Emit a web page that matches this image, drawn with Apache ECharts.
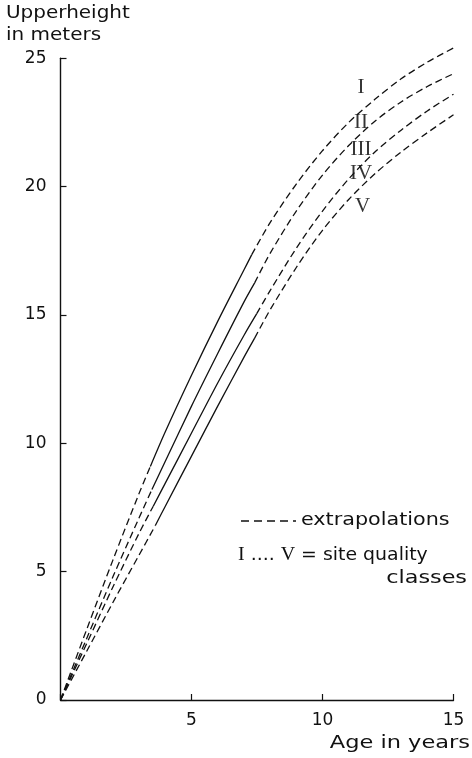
<!DOCTYPE html>
<html>
<head>
<meta charset="utf-8">
<style>
  html, body { margin: 0; padding: 0; background: #fff; }
  #chart { width: 472px; height: 758px; }
</style>
<script src="https://cdn.jsdelivr.net/npm/echarts@6/dist/echarts.min.js"></script>
</head>
<body>
<div id="chart"></div>
<script>
// class boundary curves, [age in years, upperheight in m]
const curve1 = [[0, 0], [1, 2.75], [2, 5.45], [3, 8.05], [3.43, 9.1], [4, 10.45], [5, 12.65], [6, 14.75], [7, 16.75], [7.3, 17.35], [8, 18.6], [9, 20.1], [10, 21.4], [11, 22.5], [12, 23.4], [13, 24.2], [14, 24.85], [15, 25.4]]
const curve2 = [[0, 0], [1, 2.4], [2, 4.8], [3, 7.1], [3.49, 8.2], [4, 9.3], [5, 11.45], [6, 13.5], [7, 15.5], [7.41, 16.25], [8, 17.4], [9, 19.05], [10, 20.45], [11, 21.6], [12, 22.55], [13, 23.3], [14, 23.9], [15, 24.4]]
const curve3 = [[0, 0], [1, 2.2], [2, 4.4], [3, 6.5], [3.54, 7.55], [4, 8.45], [5, 10.4], [6, 12.35], [7, 14.2], [7.49, 15.05], [8, 15.95], [9, 17.6], [10, 19.05], [11, 20.3], [12, 21.35], [13, 22.2], [14, 22.95], [15, 23.6]]
const curve4 = [[0, 0], [1, 1.9], [2, 3.8], [3, 5.65], [3.62, 6.8], [4, 7.55], [5, 9.5], [6, 11.45], [7, 13.35], [7.41, 14.1], [8, 15.2], [9, 16.85], [10, 18.3], [11, 19.5], [12, 20.5], [13, 21.35], [14, 22.1], [15, 22.8]]

// measured (solid) part of each curve: [from age, to age]
const measured = [[3.43, 7.3], [3.49, 7.41], [3.54, 7.49], [3.62, 7.41]]

// site quality class labels and where they sit
const classNames = ['I', 'II', 'III', 'IV', 'V']
const classLabelAge = [11.47, 11.47, 11.47, 11.47, 11.53]
const classLabelHeight = [23.88, 22.48, 21.43, 20.53, 19.22]

const chart = echarts.init(document.getElementById('chart'))

const font = 'DejaVu Sans'
const ink = '#111'

const series = []
;[curve1, curve2, curve3, curve4].forEach((pts, i) => {
  const [from, to] = measured[i]
  const parts = [
    { data: pts.filter(p => p[0] <= from), dashed: true },
    { data: pts.filter(p => p[0] >= from && p[0] <= to), dashed: false },
    { data: pts.filter(p => p[0] >= to), dashed: true }
  ]
  parts.forEach(part => {
    series.push({
      type: 'line',
      data: part.data,
      smooth: 0.3,
      showSymbol: false,
      silent: true,
      clip: false,
      lineStyle: {
        color: ink,
        width: 1.3,
        type: part.dashed ? [7, 4] : 'solid'
      }
    })
  })
})

series.push({
  type: 'scatter',
  symbolSize: 0,
  silent: true,
  data: classNames.map((n, i) => [classLabelAge[i], classLabelHeight[i]]),
  label: {
    show: true,
    position: 'inside',
    formatter: p => classNames[p.dataIndex],
    fontFamily: 'Liberation Serif',
    fontSize: 21,
    color: '#000'
  }
})

const option = {
  animation: false,
  backgroundColor: '#fff',
  grid: {
    left: 60.5,
    right: 18.5,
    top: 58.3,
    bottom: 58
  },
  xAxis: {
    type: 'value',
    min: 0,
    max: 15,
    interval: 5,
    splitLine: { show: false },
    axisLine: { lineStyle: { color: ink, width: 1.4 } },
    axisTick: { inside: true, length: 6, lineStyle: { color: ink, width: 1.2 } },
    axisLabel: {
      color: ink,
      fontFamily: font,
      fontSize: 17,
      margin: 12,
      formatter: v => (v === 0 ? '' : v)
    }
  },
  yAxis: {
    type: 'value',
    min: 0,
    max: 25,
    interval: 5,
    splitLine: { show: false },
    axisLine: { lineStyle: { color: ink, width: 1.4 } },
    axisTick: { inside: true, length: 6, lineStyle: { color: ink, width: 1.2 } },
    axisLabel: {
      color: ink,
      fontFamily: font,
      fontSize: 17,
      margin: 14
    }
  },
  graphic: [
    {
      type: 'text',
      x: 6,
      y: 2,
      scaleX: 1.11,
      style: {
        text: 'Upperheight\nin meters',
        font: '18px "DejaVu Sans"',
        lineHeight: 22,
        fill: ink
      }
    },
    {
      type: 'text',
      x: 470,
      y: 743,
      scaleX: 1.25,
      style: {
        text: 'Age in years',
        font: '18px "DejaVu Sans"',
        fill: ink,
        align: 'right',
        verticalAlign: 'middle'
      }
    },
    {
      type: 'line',
      shape: { x1: 241, y1: 521, x2: 296, y2: 521 },
      style: { stroke: ink, lineWidth: 1.3, lineDash: [8, 5] }
    },
    {
      type: 'text',
      x: 301,
      y: 520,
      scaleX: 1.15,
      style: {
        text: 'extrapolations',
        font: '18px "DejaVu Sans"',
        fill: ink,
        verticalAlign: 'middle'
      }
    },
    {
      type: 'text',
      x: 238,
      y: 555,
      scaleX: 1.05,
      style: {
        text: '{s|I} .... {s|V} = site quality',
        font: '18px "DejaVu Sans"',
        fill: ink,
        verticalAlign: 'middle',
        rich: {
          s: { fontFamily: 'Liberation Serif', fontSize: 19, fill: ink }
        }
      }
    },
    {
      type: 'text',
      x: 467,
      y: 578,
      scaleX: 1.24,
      style: {
        text: 'classes',
        font: '18px "DejaVu Sans"',
        fill: ink,
        align: 'right',
        verticalAlign: 'middle'
      }
    }
  ],
  series: series
}

chart.setOption(option)
</script>
</body>
</html>
